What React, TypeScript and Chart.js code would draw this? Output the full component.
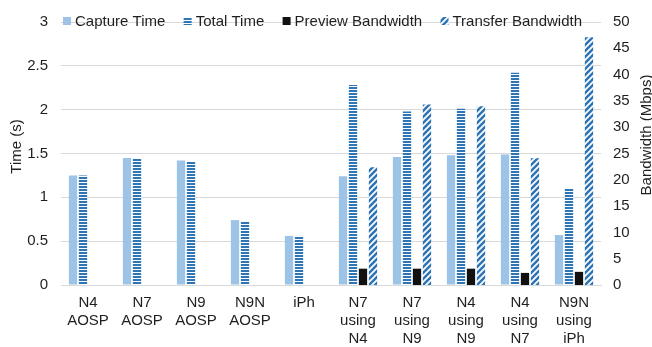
import React, { useEffect, useRef } from "react";
import { Chart, registerables } from "chart.js";

Chart.register(...registerables);

const categories: string[][] = [
  ["N4", "AOSP"],
  ["N7", "AOSP"],
  ["N9", "AOSP"],
  ["N9N", "AOSP"],
  ["iPh"],
  ["N7", "using", "N4"],
  ["N7", "using", "N9"],
  ["N4", "using", "N9"],
  ["N4", "using", "N7"],
  ["N9N", "using", "iPh"],
];

const captureTime = [1.25, 1.45, 1.42, 0.74, 0.56, 1.24, 1.46, 1.48, 1.49, 0.57];
const totalTime = [1.25, 1.44, 1.41, 0.72, 0.56, 2.28, 1.98, 2.01, 2.42, 1.1];
const previewBandwidth = [null, null, null, null, null, 3.1, 3.1, 3.1, 2.3, 2.5];
const transferBandwidth = [null, null, null, null, null, 22.4, 34.3, 34.0, 24.1, 47.1];

const seriesNames = ["Capture Time", "Total Time", "Preview Bandwidth", "Transfer Bandwidth"];
const leftTitle = "Time (s)";
const rightTitle = "Bandwidth (Mbps)";
const timeMax = 3;
const timeStep = 0.5;
const bwMax = 50;
const bwStep = 5;

const LIGHT = "#9DC3E6";
const BLUE = "#2E75B6";
const DARK = "#111111";
const TEXT = "#1f1f1f";
const GRID = "#d9d9d9";
const FONT = "'Liberation Sans', Arial, sans-serif";
const FONT_SIZE = 15;

function makeHStripes(): CanvasPattern | string {
  const c = document.createElement("canvas");
  c.width = 4;
  c.height = 3;
  const g = c.getContext("2d");
  if (!g) return BLUE;
  g.fillStyle = "#ffffff";
  g.fillRect(0, 0, 4, 3);
  g.fillStyle = BLUE;
  g.fillRect(0, 0, 4, 2);
  return g.createPattern(c, "repeat") || BLUE;
}

function makeDiag(): CanvasPattern | string {
  const s = 6;
  const c = document.createElement("canvas");
  c.width = s;
  c.height = s;
  const g = c.getContext("2d");
  if (!g) return BLUE;
  g.fillStyle = "#ffffff";
  g.fillRect(0, 0, s, s);
  g.strokeStyle = BLUE;
  g.lineWidth = 2.5;
  g.beginPath();
  g.moveTo(-1, s + 1);
  g.lineTo(s + 1, -1);
  g.moveTo(-1, 1);
  g.lineTo(1, -1);
  g.moveTo(s - 1, s + 1);
  g.lineTo(s + 1, s - 1);
  g.stroke();
  return g.createPattern(c, "repeat") || BLUE;
}

export default function App() {
  const ref = useRef<HTMLCanvasElement>(null);

  useEffect(() => {
    const canvas = ref.current;
    if (!canvas) return;
    const fills = [LIGHT, makeHStripes(), DARK, makeDiag()];

    const overlay = {
      id: "overlay",
      afterDraw(chart: any) {
        const ctx = chart.ctx as CanvasRenderingContext2D;
        ctx.save();
        ctx.font = `${FONT_SIZE}px ${FONT}`;
        ctx.fillStyle = TEXT;
        // legend
        const widths = seriesNames.map((n) => ctx.measureText(n).width);
        const startX = 63;
        const endX = 582;
        const boxToText = 12;
        const used = widths.reduce((a, w) => a + w + boxToText, 0);
        const gap = (endX - startX - used) / (seriesNames.length - 1);
        let x = startX;
        ctx.textBaseline = "alphabetic";
        ctx.textAlign = "left";
        seriesNames.forEach((name, i) => {
          ctx.fillStyle = fills[i] as any;
          ctx.fillRect(x, 17, 8, 8);
          ctx.fillStyle = TEXT;
          ctx.fillText(name, x + boxToText, 26);
          x += boxToText + widths[i] + gap;
        });
        // axis titles
        ctx.textAlign = "center";
        ctx.save();
        ctx.translate(20.5, 146.5);
        ctx.rotate(-Math.PI / 2);
        ctx.fillText(leftTitle, 0, 0);
        ctx.restore();
        ctx.save();
        ctx.translate(650.5, 135);
        ctx.rotate(-Math.PI / 2);
        ctx.fillText(rightTitle, 0, 0);
        ctx.restore();
        ctx.restore();
      },
    };

    const tickFont = { family: FONT, size: FONT_SIZE, lineHeight: 18 / FONT_SIZE };

    const chart = new Chart(canvas, {
      type: "bar",
      data: {
        labels: categories,
        datasets: [
          {
            label: seriesNames[0],
            data: captureTime,
            backgroundColor: fills[0] as any,
            yAxisID: "y",
            categoryPercentage: 0.74,
            barPercentage: 0.83,
          },
          {
            label: seriesNames[1],
            data: totalTime,
            backgroundColor: fills[1] as any,
            yAxisID: "y",
            categoryPercentage: 0.74,
            barPercentage: 0.83,
          },
          {
            label: seriesNames[2],
            data: previewBandwidth as any,
            backgroundColor: fills[2] as any,
            yAxisID: "y1",
            categoryPercentage: 0.74,
            barPercentage: 0.83,
          },
          {
            label: seriesNames[3],
            data: transferBandwidth as any,
            backgroundColor: fills[3] as any,
            yAxisID: "y1",
            categoryPercentage: 0.74,
            barPercentage: 0.83,
          },
        ],
      },
      options: {
        responsive: false,
        animation: false,
        layout: { padding: { top: 12, left: 0, right: 0, bottom: 0 } },
        plugins: {
          legend: { display: false },
          tooltip: { enabled: false },
        },
        scales: {
          x: {
            grid: { display: false, drawTicks: false },
            border: { display: true, color: GRID, width: 1 },
            ticks: {
              color: TEXT,
              font: tickFont,
              padding: 9,
              maxRotation: 0,
              autoSkip: false,
            },
            afterFit(s: any) {
              s.height = 62;
            },
          },
          y: {
            position: "left",
            min: 0,
            max: timeMax,
            ticks: {
              stepSize: timeStep,
              color: TEXT,
              font: tickFont,
              padding: 13,
              callback: (v: any) => String(parseFloat(Number(v).toFixed(2))),
            },
            grid: { color: GRID, lineWidth: 1, drawTicks: false },
            border: { display: false },
            afterFit(s: any) {
              s.width = 61;
            },
          },
          y1: {
            position: "right",
            min: 0,
            max: bwMax,
            ticks: { stepSize: bwStep, color: TEXT, font: tickFont, padding: 12 },
            grid: { display: false, drawTicks: false },
            border: { display: false },
            afterFit(s: any) {
              s.width = 51;
            },
          },
        },
      } as any,
      plugins: [overlay],
    });

    return () => chart.destroy();
  }, []);

  return (
    <div
      style={{
        position: "absolute",
        left: 0,
        top: 0,
        width: 652,
        height: 347,
        background: "#ffffff",
      }}
    >
      <canvas ref={ref} width={652} height={347} style={{ display: "block" }} />
    </div>
  );
}
